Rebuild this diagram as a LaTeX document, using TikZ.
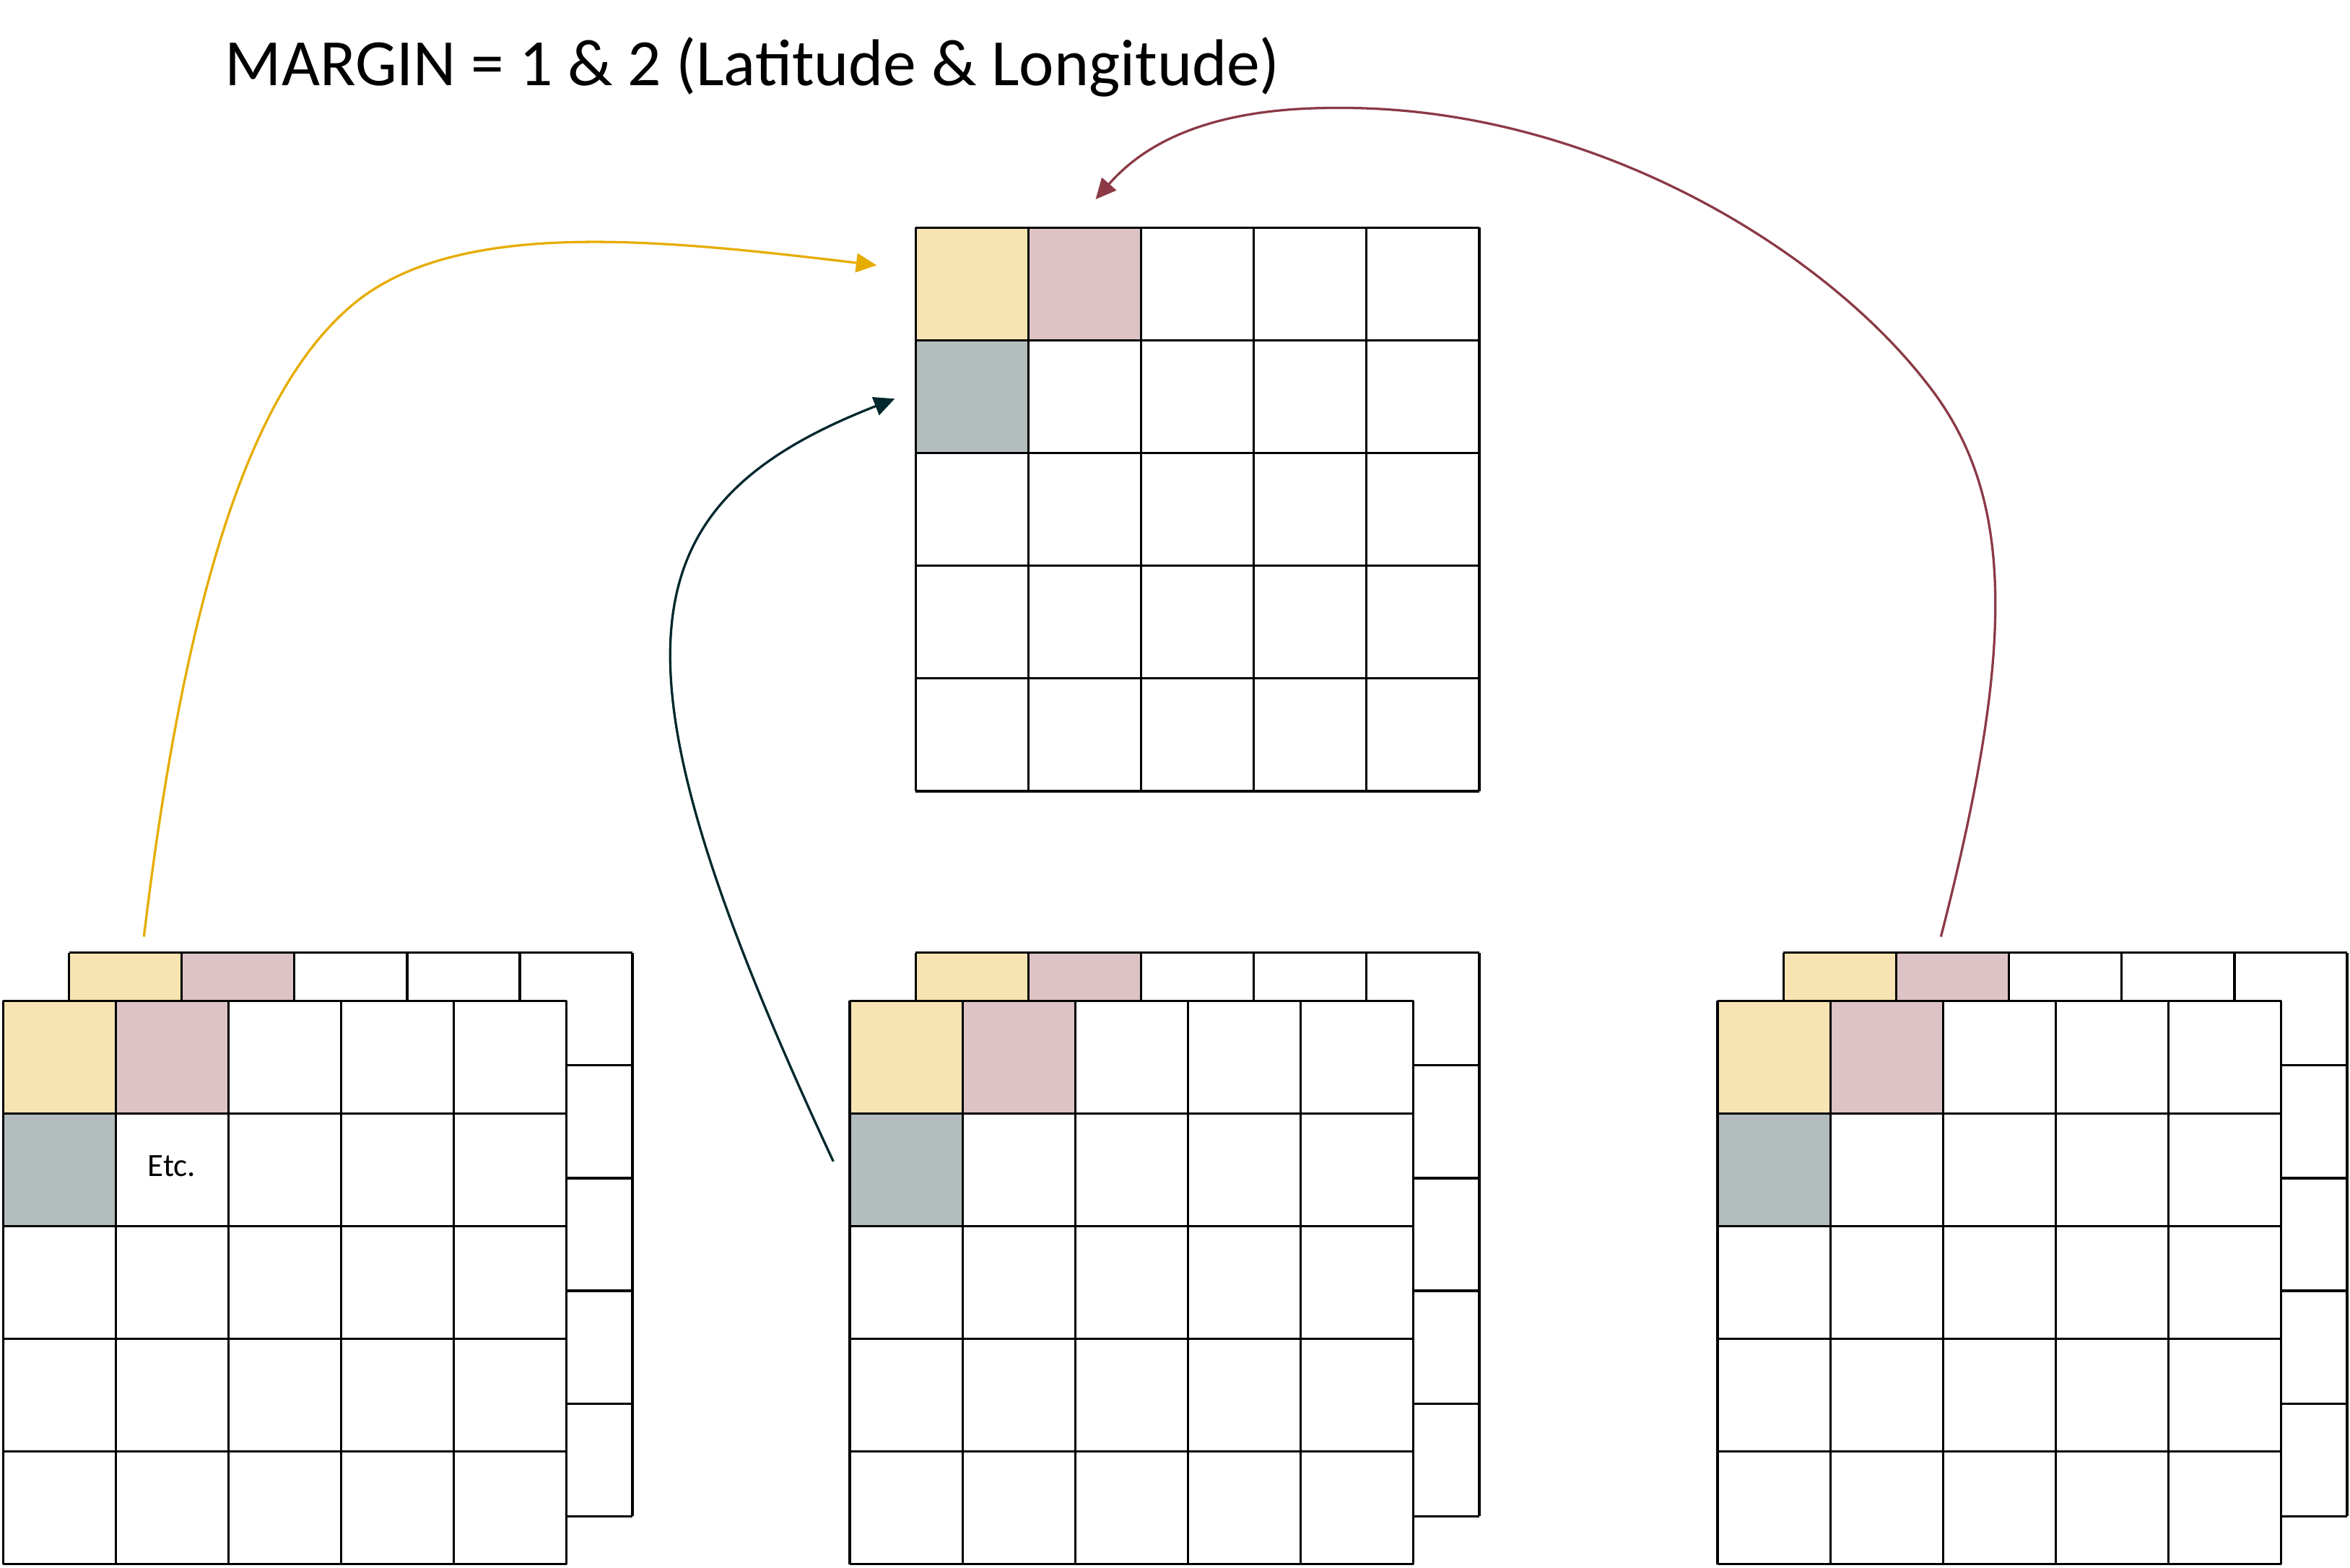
\documentclass[tikz,border=0pt]{standalone}
\usepackage{fontspec}
\setmainfont{Carlito}
\usetikzlibrary{arrows.meta}

\definecolor{latfill}{HTML}{F7E4B2}
\definecolor{lonfill}{HTML}{DDC3C6}
\definecolor{marfill}{HTML}{B3BDBE}
\definecolor{latline}{HTML}{E6AC00}
\definecolor{marline}{HTML}{00282D}
\definecolor{lonline}{HTML}{8B3A46}

\tikzset{
  gridline/.style={draw=black,line width=0.6pt},
  flow/.style={line width=0.6pt,-{Triangle[length=5.2pt,width=4.8pt]}},
}

% 5x5 grid, (#1,#2) is the top left corner
\newcommand{\cellgrid}[2]{%
  \begin{scope}[shift={(#1,#2)}]
    \fill[white] (0,0) rectangle (5,-5);
    \fill[latfill] (0,0) rectangle (1,-1);
    \fill[lonfill] (1,0) rectangle (2,-1);
    \fill[marfill] (0,-1) rectangle (1,-2);
    \foreach \i in {0,...,5} {
      \draw[gridline] (\i,0) -- (\i,-5);
      \draw[gridline] (0,-\i) -- (5,-\i);
    }
  \end{scope}}

\begin{document}
\begin{tikzpicture}
\useasboundingbox (0,0) rectangle (20.851,13.910);

% target grid
\cellgrid{8.125}{11.89}

% input stacks
\cellgrid{0.612}{5.456}
\cellgrid{0.027}{5.03}
\cellgrid{8.125}{5.456}
\cellgrid{7.54}{5.03}
\cellgrid{15.825}{5.456}
\cellgrid{15.24}{5.03}

\node[anchor=base west,inner sep=0pt,font=\fontsize{16.7}{20}\selectfont] (title) at (1.99,13.15) {MARGIN = 1 \& 2 (Latitude \& Longitude)};
\node[inner sep=0pt,font=\fontsize{8.2}{10}\selectfont] (etc) at (1.523,3.564) {Etc.};

\coordinate (latsrc) at (1.277,5.598);
\coordinate (lattgt) at (7.779,11.556);
\coordinate (marsrc) at (7.394,3.604);
\coordinate (martgt) at (7.939,10.372);
\coordinate (lonsrc) at (17.221,5.598);
\coordinate (lontgt) at (9.721,12.141);

\draw[flow,latline] (latsrc) .. controls (1.676,8.923) and (2.307,10.508) .. (3.118,11.197)
  .. controls (4.029,11.972) and (5.785,11.795) .. (lattgt);
\draw[flow,marline] (marsrc) .. controls (5.319,8.059) and (5.50,9.42) .. (martgt);
\draw[flow,lonline] (lonsrc) .. controls (17.886,8.191) and (17.886,9.521) .. (17.088,10.519)
  .. controls (16.157,11.715) and (14.096,12.979) .. (11.835,12.952)
  .. controls (10.638,12.952) and (10.106,12.580) .. (lontgt);
\end{tikzpicture}
\end{document}
